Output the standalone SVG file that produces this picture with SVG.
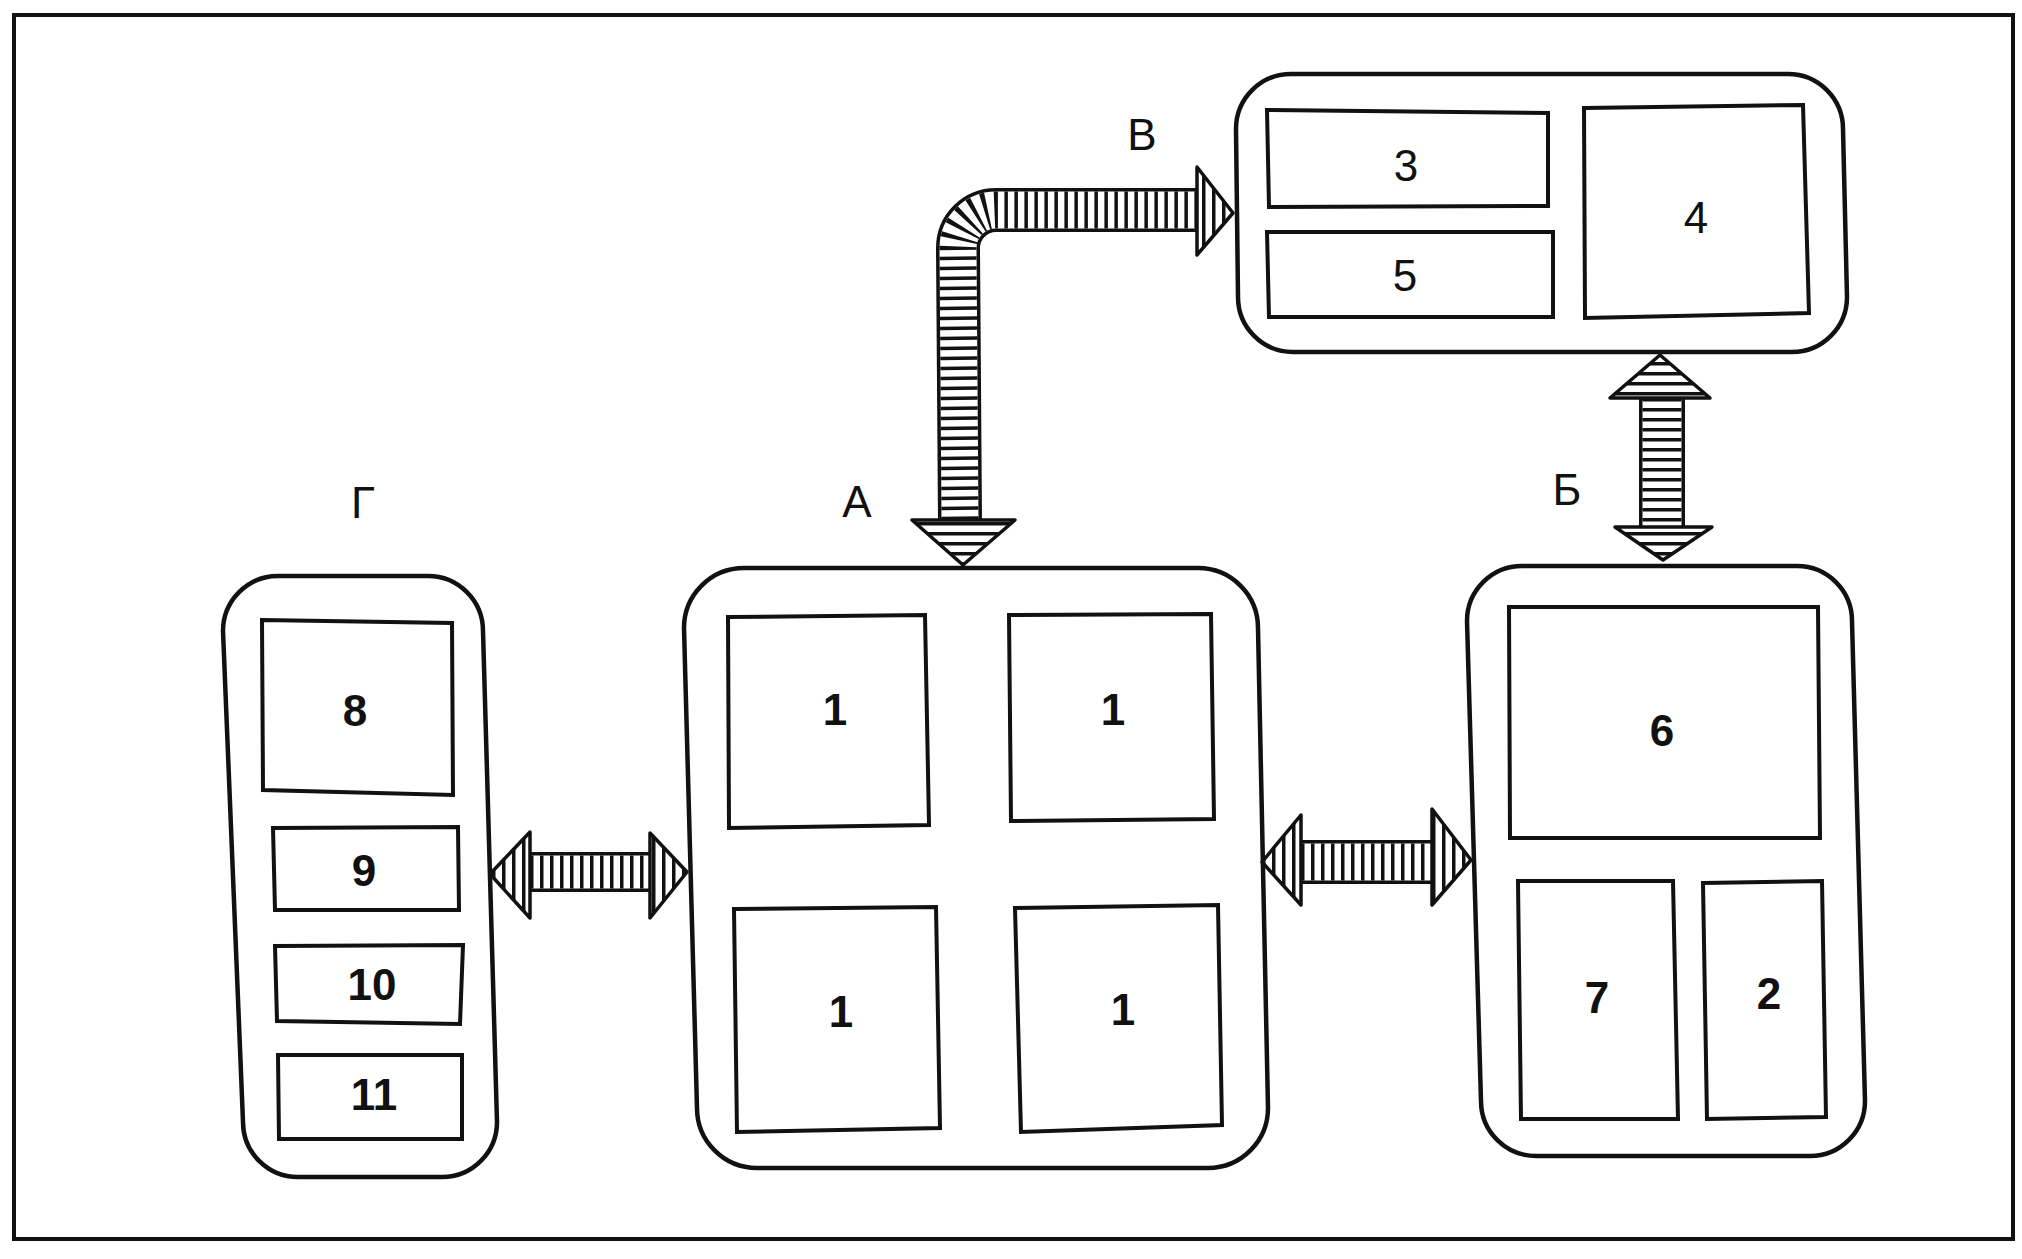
<svg xmlns="http://www.w3.org/2000/svg" width="2022" height="1259" viewBox="0 0 2022 1259">
<style>
.frame{fill:none;stroke:#111;stroke-width:4}
.cont{fill:none;stroke:#111;stroke-width:4.5;stroke-linejoin:round}
.box{fill:none;stroke:#111;stroke-width:4;stroke-linejoin:miter}
.num{font-family:"Liberation Sans",Arial,sans-serif;font-size:44px;font-weight:bold;fill:#111;text-anchor:middle}
.numl{font-family:"Liberation Sans",Arial,sans-serif;font-size:44px;font-weight:normal;fill:#111;text-anchor:middle}
.lbl{font-family:"Liberation Sans",Arial,sans-serif;font-size:44px;font-weight:normal;fill:#111;text-anchor:middle}
.so{fill:none;stroke:#111;stroke-linecap:butt;stroke-linejoin:round}
.sw{fill:none;stroke:#fff;stroke-linecap:butt;stroke-linejoin:round}
.sh{fill:none;stroke:#111;stroke-linecap:butt;stroke-dasharray:3.5 6.5}
.hv{fill:url(#pv);stroke:#111;stroke-width:3.5;stroke-linejoin:round}
.hh{fill:url(#ph);stroke:#111;stroke-width:3.5;stroke-linejoin:round}
</style>
<defs>
<pattern id="pv" patternUnits="userSpaceOnUse" width="10" height="10"><rect width="10" height="10" fill="#fff"/><rect x="2" width="3.5" height="10" fill="#111"/></pattern>
<pattern id="ph" patternUnits="userSpaceOnUse" width="10" height="10"><rect width="10" height="10" fill="#fff"/><rect y="2" width="10" height="3.5" fill="#111"/></pattern>
</defs>
<rect width="2022" height="1259" fill="#fff"/>
<rect class="frame" x="14" y="15" width="1999" height="1224"/>

<g id="node-G">
<text class="lbl" x="363" y="518">Г</text>
<path class="cont" d="M278,576 L428,576 A55,55 0 0 1 483,631 L497,1122 A55,55 0 0 1 442,1177 L298,1177 A55,55 0 0 1 243,1122 L223,631 A55,55 0 0 1 278,576 Z"/>
<polygon class="box" points="262,620 452,623 453,795 263,790"/>
<text class="num" x="355" y="726">8</text>
<polygon class="box" points="273,828 458,827 459,910 275,910"/>
<text class="num" x="364" y="886">9</text>
<polygon class="box" points="275,946 463,945 460,1024 277,1021"/>
<text class="num" x="372" y="1000">10</text>
<polygon class="box" points="278,1055 462,1055 462,1139 279,1139"/>
<text class="num" x="374" y="1110">11</text>
</g>

<g id="node-A">
<text class="lbl" x="857" y="517">А</text>
<path class="cont" d="M744,568 L1198,568 A60,60 0 0 1 1258,628 L1268,1108 A60,60 0 0 1 1208,1168 L757,1168 A60,60 0 0 1 697,1108 L684,628 A60,60 0 0 1 744,568 Z"/>
<polygon class="box" points="728,617 925,615 929,825 729,828"/>
<text class="num" x="835" y="725">1</text>
<polygon class="box" points="1009,615 1211,614 1214,819 1011,821"/>
<text class="num" x="1113" y="725">1</text>
<polygon class="box" points="734,909 936,907 940,1128 737,1132"/>
<text class="num" x="841" y="1027">1</text>
<polygon class="box" points="1015,908 1218,905 1222,1125 1021,1132"/>
<text class="num" x="1123" y="1025">1</text>
</g>

<g id="node-V">
<text class="lbl" x="1142" y="150">В</text>
<path class="cont" d="M1291,74 L1788,74 A55,55 0 0 1 1843,129 L1847,297 A55,55 0 0 1 1792,352 L1293,352 A55,55 0 0 1 1238,297 L1236,129 A55,55 0 0 1 1291,74 Z"/>
<polygon class="box" points="1267,110 1548,113 1548,206 1269,207"/>
<text class="numl" x="1406" y="181">3</text>
<polygon class="box" points="1267,232 1553,232 1553,317 1269,317"/>
<text class="numl" x="1405" y="291">5</text>
<polygon class="box" points="1584,108 1803,105 1809,313 1585,318"/>
<text class="numl" x="1696" y="233">4</text>
</g>

<g id="node-B">
<text class="lbl" x="1567" y="505">Б</text>
<path class="cont" d="M1522,566 L1797,566 A55,55 0 0 1 1852,621 L1865,1101 A55,55 0 0 1 1810,1156 L1536,1156 A55,55 0 0 1 1481,1101 L1467,621 A55,55 0 0 1 1522,566 Z"/>
<polygon class="box" points="1509,607 1818,607 1820,838 1510,838"/>
<text class="num" x="1662" y="746">6</text>
<polygon class="box" points="1518,881 1673,881 1678,1119 1521,1119"/>
<text class="num" x="1597" y="1013">7</text>
<polygon class="box" points="1703,883 1822,881 1826,1117 1707,1119"/>
<text class="num" x="1769" y="1009">2</text>
</g>

<g id="connectors">
<!-- Г <-> А -->
<g id="conn-G-A">
<path class="so" stroke-width="40" d="M530,872 L650,872"/>
<path class="sw" stroke-width="33" d="M530,872 L650,872"/>
<path class="sh" stroke-width="33" d="M530,872 L650,872"/>
<polygon class="hv" points="530,832 490,874 530,918"/>
<polygon class="hv" points="650,833 687,872 650,918"/>
</g>
<!-- А <-> Б -->
<g id="conn-A-B">
<path class="so" stroke-width="44" d="M1301,862 L1432,862"/>
<path class="sw" stroke-width="37" d="M1301,862 L1432,862"/>
<path class="sh" stroke-width="37" d="M1301,862 L1432,862"/>
<polygon class="hv" points="1301,815 1262,862 1301,905"/>
<polygon class="hv" points="1432,809 1471,860 1432,905"/>
</g>
<!-- В <-> Б -->
<g id="conn-V-B">
<path class="so" stroke-width="46" d="M1662,398 L1662,527"/>
<path class="sw" stroke-width="39" d="M1662,398 L1662,527"/>
<path class="sh" stroke-width="39" d="M1662,398 L1662,527"/>
<polygon class="hh" points="1610,398 1660,355 1710,398"/>
<polygon class="hh" points="1615,527 1663,560 1712,527"/>
</g>
<!-- А <-> В (bent) -->
<g id="conn-A-V">
<path class="so" stroke-width="44" d="M960,520 L958,248 A38,38 0 0 1 996,210 L1197,210"/>
<path class="sw" stroke-width="37" d="M960,520 L958,248 A38,38 0 0 1 996,210 L1197,210"/>
<path class="sh" stroke-width="37" d="M960,520 L958,248 A38,38 0 0 1 996,210 L1197,210"/>
<polygon class="hv" points="1197,167 1233,213 1197,255"/>
<polygon class="hh" points="912,520 963,565 1015,520"/>
</g>
</g>
</svg>
